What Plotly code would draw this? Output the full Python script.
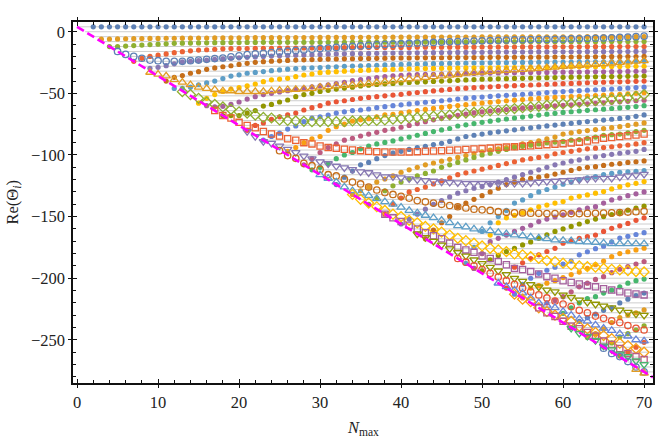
import plotly.graph_objects as go

colors = ["#5E81B5","#E19C24","#8FB032","#EB6235","#8778B3","#C56E1A","#5D9EC7","#FFBF00",
          "#A5609D","#929600","#E95536","#6685D9","#F89F13","#BC5B80","#47B66D"]

# every series ends at Nmax = 70; values run in ascending Nmax
f01=[4,4,4,4,4,4,4,4,4, 4,4,4,4,4,4,4,4,4,4, 4,4,4,4,4,4,4,4,4,4, 4,4,4,4,4,4,4,4,4,4,
     4,4,4,4,4,4,4,4,4,4, 4,4,4,4,4,4,4,4,4,4, 4,4,4,4,4,4,4,4,4,4]
f02=[-6,-5.9,-5.8,-5.7,-5.6,-5.5,-5.4,-5.4,
     -5.3,-5.3,-5.2,-5.2,-5.1,-5.1,-5,-5,-4.9,-4.9,
     -4.8,-4.8,-4.8,-4.8,-4.7,-4.7,-4.7,-4.7,-4.7,-4.6,
     -4.6,-4.6,-4.6,-4.6,-4.5,-4.5,-4.5,-4.5,-4.4,-4.4,
     -4.4,-4.4,-4.4,-4.3,-4.3,-4.3,-4.3,-4.3,-4.3,-4.2,
     -4.2,-4.2,-4.2,-4.2,-4.2,-4.1,-4.1,-4.1,-4.1,-4.1,
     -4.1,-4.1,-4,-4,-4,-4,-4,-4,-4,-4]
f03=[-12,-12,-11.6,-11.2,-10.8,-10.4,-10.1,
     -9.8,-9.4,-9.3,-9.2,-9.1,-9,-8.9,-8.9,-8.8,-8.8,
     -8.7,-8.7,-8.6,-8.6,-8.6,-8.6,-8.6,-8.6,-8.6,-8.6,
     -8.6,-8.6,-8.6,-8.6,-8.5,-8.5,-8.5,-8.5,-8.5,-8.5,
     -8.5,-8.4,-8.4,-8.4,-8.4,-8.4,-8.4,-8.4,-8.4,-8.4,
     -8.3,-8.3,-8.3,-8.3,-8.3,-8.2,-8.2,-8.2,-8.2,-8.2,
     -8.1,-8.1,-8.1,-8.1,-8.1,-8,-8,-8,-8,-8]
f04=[-24,-21.6,-20,-19,
     -18,-17,-16.2,-15.5,-14.9,-14.6,-14.2,-13.9,-13.6,-13.6,
     -13.6,-13.5,-13.4,-13.4,-13.3,-13.3,-13.2,-13.2,-13.1,-13.1,
     -13,-13,-12.9,-12.9,-12.9,-12.8,-12.8,-12.8,-12.7,-12.7,
     -12.7,-12.6,-12.6,-12.6,-12.6,-12.5,-12.5,-12.5,-12.5,-12.4,
     -12.4,-12.4,-12.4,-12.4,-12.3,-12.3,-12.3,-12.3,-12.2,-12.2,
     -12.2,-12.2,-12.1,-12.1,-12.1,-12.1,-12,-12,-12,-12]
f05=[-29.7,-28.9,
     -27.5,-26,-24.5,-24,-23.5,-23,-22.5,-22,-21.6,-21.2,
     -20.8,-20.4,-20,-19.7,-19.4,-19.2,-19,-18.8,-18.6,-18.4,
     -18.2,-18,-17.9,-17.8,-17.7,-17.6,-17.5,-17.4,-17.3,-17.2,
     -17.1,-17.1,-17,-17,-16.9,-16.9,-16.8,-16.8,-16.7,-16.7,
     -16.6,-16.6,-16.5,-16.5,-16.5,-16.4,-16.4,-16.4,-16.3,-16.3,
     -16.3,-16.3,-16.2,-16.2,-16.2,-16.1,-16.1,-16.1,-16,-16]
f06=[-40,-37,-35.6,-33.7,-32.4,-30.5,-29.4,-28.4,-27.6,-26.5,
     -25.6,-24.8,-24.3,-23.9,-23.6,-23.3,-23,-22.8,-22.6,-22.4,
     -22.2,-22.1,-22,-21.9,-21.8,-21.7,-21.6,-21.5,-21.4,-21.3,
     -21.3,-21.2,-21.2,-21.1,-21.1,-21,-21,-21,-20.9,-20.9,
     -20.8,-20.8,-20.8,-20.7,-20.7,-20.7,-20.6,-20.6,-20.5,-20.5,
     -20.5,-20.4,-20.4,-20.3,-20.3,-20.2,-20.2,-20.1,-20.1,-20]
f07=[-46,-46,-45,-43,-41.5,-40,-38,-36,-35,
     -33.7,-33,-32.3,-31.6,-31,-30.4,-29.9,-29.5,-29.2,-29,
     -28.7,-28.4,-28.1,-27.9,-27.6,-27.4,-27.2,-26.9,-26.7,-26.5,
     -26.3,-26.2,-26.1,-25.9,-25.8,-25.7,-25.6,-25.5,-25.4,-25.3,
     -25.2,-25.1,-25.1,-25,-24.9,-24.9,-24.8,-24.7,-24.7,-24.6,
     -24.6,-24.5,-24.5,-24.4,-24.4,-24.3,-24.2,-24.2,-24.1,-24]
f08=[-58,-54,-51,-48.5,-46.5,-45.4,
     -44,-42.4,-40.5,-39,-38.4,-37.8,-36.5,-35.1,-34.3,-33.2,
     -32.8,-32.4,-32,-31.7,-31.4,-31.2,-31,-30.8,-30.5,-30.3,
     -30.1,-30,-29.9,-29.8,-29.7,-29.6,-29.5,-29.4,-29.3,-29.3,
     -29.2,-29.1,-29.1,-29,-28.9,-28.9,-28.8,-28.7,-28.7,-28.6,
     -28.5,-28.5,-28.4,-28.4,-28.3,-28.3,-28.2,-28.1,-28.1,-28]
f09=[-60,-61,-60.5,-59,-57,
     -54.6,-52.7,-51,-50,-48.8,-47.8,-46.8,-45.8,-44.8,-44,
     -43,-42,-41,-39.7,-38.9,-38,-37.2,-36.5,-35.8,-35.3,
     -35,-34.8,-34.6,-34.5,-34.3,-34.2,-34,-33.9,-33.8,-33.6,
     -33.5,-33.4,-33.3,-33.3,-33.2,-33.1,-33,-33,-32.9,-32.8,
     -32.8,-32.7,-32.6,-32.5,-32.5,-32.4,-32.3,-32.2,-32.1,-32]
f10=[-68,-68,-68,
     -66,-64,-60.3,-59,-57,-55.4,-52.7,-51,-50,-48.5,
     -47.5,-46.5,-45.7,-45,-44,-43.4,-42.8,-42.3,-41.9,-41.5,
     -41.2,-41,-40.6,-40.3,-40,-39.7,-39.4,-39.1,-38.8,-38.5,
     -38.4,-38.2,-38.1,-37.9,-37.8,-37.6,-37.5,-37.3,-37.2,-37,
     -36.9,-36.8,-36.7,-36.6,-36.5,-36.4,-36.3,-36.2,-36.1,-36]
f11=[-80,-76,-74,-71,-69,-67.5,-66,-63.5,-61.6,-60,
     -58,-56.8,-56,-55,-54,-53.3,-52.7,-52,-51.4,-50.8,
     -50,-49.3,-48.6,-48,-47.4,-46.8,-46.2,-45.8,-45.4,-45,
     -44.7,-44.4,-44.1,-43.8,-43.5,-43.2,-43,-42.7,-42.4,-42.1,
     -41.9,-41.7,-41.4,-41.2,-41,-40.8,-40.6,-40.4,-40.2,-40]
f12=[-88,-85,-82.3,-79,-76.5,-73,-70,-69,
     -67.6,-66,-65,-64,-63.5,-62.7,-61.6,-60.8,-60,-59.3,
     -58.6,-57.9,-57.2,-56.6,-56,-55.4,-54.6,-53.9,-53.4,-53,
     -52.5,-52,-51.6,-51.2,-50.8,-50.3,-49.9,-49.4,-49,-48.5,
     -48.1,-47.8,-47.4,-47.1,-46.8,-46.5,-46.1,-45.7,-45.3,-45]
f13=[-97,-94,-90,-87,-85,
     -80,-77,-75,-72.5,-71.5,-70.5,-69,-67.5,-67,-66,
     -65,-64,-63,-62.2,-61.4,-60.6,-59.9,-59.2,-58.5,-57.8,
     -57.2,-56.6,-56,-55.5,-55,-54.5,-54.1,-53.7,-53.3,-53,
     -52.7,-52.4,-52.1,-51.8,-51.4,-51.1,-50.8,-50.4,-50,-49.5]
f14=[-108,-103,-98,
     -94,-91,-88,-86.5,-84.6,-83,-81.6,-80,-79,-77.5,
     -76,-74.5,-73,-71.5,-70.2,-69,-67.8,-66.8,-65.8,-65,
     -64.3,-63.7,-63.1,-62.5,-62,-61.5,-61,-60.5,-60.1,-59.7,
     -59.3,-58.9,-58.5,-58.1,-57.7,-57.3,-56.9,-56.5,-56,-55.5]
f15=[-112,-110,
     -107,-103,-100,-98,-95,-92.7,-91,-89.8,-88.6,-87,
     -85.5,-84,-82.5,-81,-79.7,-78.5,-76.5,-75.5,-74.5,-73.5,
     -72.6,-71.7,-70.8,-70,-69.2,-68.4,-67.6,-66.9,-66.2,-65.5,
     -64.9,-64.3,-63.8,-63.3,-62.8,-62.3,-61.8,-61.3,-60.7,-60]
f16=[-124,-118,-113,-108,-106,-103,-100.5,-98.5,-97,
     -95.5,-94,-93,-91.5,-90.5,-89,-87,-85,-84,-83,
     -82,-81.2,-80.4,-79.6,-78.8,-78,-77.2,-76.4,-75.7,-75,
     -74.3,-73.6,-72.9,-72.3,-71.7,-71,-70.3,-69.6,-68.6,-67.5]
f17=[-132,-129,-126,-122,-119.5,-117,-114,
     -112,-110,-108,-106.5,-105,-103.5,-102,-100.5,-99,-97.5,
     -96,-95,-94,-92.5,-91,-90,-88.5,-87,-85.5,-83,
     -82,-81,-80.2,-79.4,-78.6,-77.8,-77,-76,-75,-74]
f18=[-140,-135,-129,-125,-122,
     -119.5,-117,-115,-113,-110,-108,-106,-104,-102,-100,
     -98.5,-97,-95.5,-94,-93,-92,-91,-90,-89.5,-89,
     -88,-87.5,-86.5,-85.5,-84,-83.5,-83,-82,-81,-80]
f19=[-148,-140,-135,
     -130,-128,-126,-123.5,-121,-118.5,-116,-114.5,-113,-111.5,
     -110,-108.5,-107,-105.5,-104,-103,-102,-101,-99,-98,
     -97,-96,-95,-94.5,-94,-93.3,-92.6,-91.9,-91,-90]
f20=[-156,
     -152,-148,-144,-140,-137,-134,-131,-129,-127,-125.5,
     -124,-122,-120,-118,-116,-114,-112,-110,-108,-106.5,
     -105,-104,-102.5,-101.5,-100.5,-99.5,-98.6,-97.8,-97,-95.5]
f21=[-168,-161,-155,-150,-142,-139,-136,-133,
     -130,-127,-124,-122,-120,-119,-118,-117,-115.5,-114,
     -112.5,-111,-110,-109.5,-108.5,-107.5,-107,-106,-105.5,-104.8]
f22=[-188,-175,-162,
     -155,-150,-145,-139,-136.5,-133,-130,-128,-126,-123.7,
     -122,-120,-118.5,-117.5,-116,-115,-114,-113.7,-113.2,-112.7]
f23=[-192,-180,
     -165,-155,-151,-149,-147,-144.5,-142,-140.6,-139,-137.8,
     -135,-133.5,-132.4,-131,-129.7,-127.5,-125.7,-124.2,-123,-121.6]
f24=[-192,-180,
     -170.3,-167.6,-165,-162,-159.5,-157,-154,-152,-150.3,-148.6,
     -146.5,-144.6,-143,-141.9,-139,-136.5,-135,-133,-131.5,-130]
f25=[-194,
     -185,-181.5,-178.4,-175.7,-173,-170.5,-167.6,-164.7,-162,-160,
     -158,-156,-154,-152,-150,-148.3,-146.7,-144.8,-143,-141.5]
f26=[-208,-191,-187.5,-184,-181,-178.3,-175.7,-171.6,
     -169.6,-167.6,-166.3,-165,-162,-159.5,-157.5,-155.5,-153,-151]
f27=[-213,-205,-200,-196,-193.5,-191,-188.5,
     -186,-181,-178.5,-176,-174,-170.5,-167.4,-166,-164.5,-163]
f28=[-216,-208,-206,-204,-202,-199.5,
     -197,-195,-192,-189,-186,-182.5,-180,-178.5,-177,-175.6]
f29=[-220,-218,-215,-211,-207,-204,-201,-198.7,-195.5,-192.7,-190.5,-188.5,-186.5]
f30=[-228.5,-224,-220,-216.5,-215,-212,-209.7,-207,-204,-202,-200.7]
f31=[-240,-235,-232,-229,-226,-224,-220,-217,-214,-212]
f32=[-248,-245,-241,-236,-232,-230,-228,-225.7]
f33=[-255.5,-252.5,-247.5,-245,-242,-238.7]
f34=[-263,-259.8,-256,-252]
filled = [f01,f02,f03,f04,f05,f06,f07,f08,f09,f10,f11,f12,f13,f14,f15,f16,f17,
          f18,f19,f20,f21,f22,f23,f24,f25,f26,f27,f28,f29,f30,f31,f32,f33,f34]

o01=[-16,-18.4,-20,-21.5,-23,-23.5,
     -24,-24,-24,-23.5,-23,-22.4,-21.8,-21.3,-20.3,-19.5,
     -18.6,-18,-17.5,-16.9,-16.3,-15.8,-15.3,-14.8,-14.3,-13.6,
     -13.2,-12.7,-12.3,-11.9,-11.5,-11.1,-10.7,-10.4,-10.1,-9.8,
     -9.5,-9.2,-9,-8.7,-8.4,-8.2,-8,-7.7,-7.5,-7.3,
     -7.1,-6.9,-6.7,-6.6,-6.5,-6.4,-6.3,-6.2,-6.1,-6,
     -5.8,-5.7,-5.5,-5.3,-5.1,-4.9,-4.6,-4.3,-4,-3.6]
o02=[-33,-34.5,
     -36,-39,-41,-43,-45,-46,-47,-48,-48,-48.6,
     -48.6,-48.6,-48.6,-48,-47.5,-47,-46.8,-46.4,-46,-45,
     -44.6,-44,-43.6,-43.2,-42.7,-42,-41.3,-40.6,-40,-39,
     -38.4,-37.8,-37.2,-36.6,-36,-35.4,-34.8,-33.7,-33.2,-32.8,
     -32.3,-31.8,-31.4,-31,-30.6,-30.2,-29.8,-29.3,-28.8,-28.2,
     -27.8,-27.4,-27,-26.5,-26,-25.5,-25,-24.6,-24,-23.5]
o03=[-48.6,-51,-54,-57,-59,-61,-63,-65,
     -66,-67.6,-69.5,-70,-71.6,-72,-72.4,-72.7,-73,-73,
     -73,-73,-73,-72.4,-72.4,-72,-72,-71.6,-71,-70.5,
     -70,-69.5,-69,-68.5,-68,-67.5,-66.5,-66,-65.5,-65,
     -64.2,-63.5,-63,-62.3,-61.6,-61,-60.5,-59.6,-59,-58.5,
     -58,-57.3,-56.7,-56,-55.4,-54.8,-54.2,-53.5,-52.5,-51]
o04=[-64,-68,-70,-73.5,
     -76,-78,-81,-83,-84.6,-86.8,-88,-90,-91,-92.7,
     -94,-94.6,-95.4,-96,-96.5,-97,-97.3,-97.6,-97.6,-97.6,
     -97.5,-97.3,-97,-96.8,-96.5,-96.2,-96,-95.6,-95.2,-94.8,
     -94.4,-94,-93.6,-93.3,-93,-92.5,-92,-91.6,-91.2,-90.8,
     -90.2,-89.6,-88.7,-87.6,-86.5,-85.8,-85.1,-84.4,-83.8,-83]
o05=[-81,-85,-89,-90.5,-92.7,-95.4,-98,-100.8,-103,-105.4,
     -107,-109,-110.3,-111.7,-113.5,-114.3,-116,-117.6,-117.6,-118.5,
     -119.2,-120,-120.6,-121.2,-121.8,-122.2,-122.5,-123,-123,-123,
     -123,-123,-123,-123,-123,-122.5,-122,-121.5,-121.2,-120.7,
     -120.4,-120,-119.4,-118.8,-118.8,-118.8,-117.8,-116.8,-116.2,-115.6]
o06=[-96.5,-100.5,-102.7,-106.8,-108.7,-111.7,
     -116,-117,-119.5,-122,-123.5,-126,-128.4,-130.5,-132,-133.5,
     -135,-137,-138,-139,-140,-141,-142,-143,-144,-144.5,
     -145,-146,-146.5,-147,-147,-147.2,-147.3,-147.5,-147.5,-147.5,
     -147.5,-147.5,-147.4,-147.3,-147.1,-147,-146.7,-146.3,-146,-145.7]
o07=[-116,
     -119,-122,-126,-129,-131,-133,-135.5,-138,-140,-142.5,
     -145,-147,-149,-151,-153,-155,-157.5,-158.5,-160,-161,
     -161.5,-163,-164,-165,-165.5,-166.5,-167.3,-168,-169,-169.3,
     -169.7,-170.3,-170.7,-171,-171.5,-172,-172.1,-172.1,-172.1,-172.1]
o08=[-132,-136,-139,-142,-145,-148,-150,
     -153,-155,-158,-160,-162.5,-165,-167.6,-169.5,-171.6,-173.8,
     -175.7,-177,-178.4,-180.3,-181,-182.5,-183.8,-185.7,-186.5,-187.8,
     -189.2,-190,-190.6,-191,-192,-192.7,-193.3,-193.8,-194.6,-194.9]
o09=[-148,-151,-154,
     -157,-160,-163,-165.5,-168,-171.5,-175,-177,-179,-182,
     -184,-186.5,-189,-192,-193,-194.6,-196.5,-198.7,-200,-202,
     -203.5,-204.6,-206,-207,-208.5,-209.5,-211,-212,-212.8,-213.5]
o10=[-164,-167,-170,-173,-176,-179,-182,-185,-188,
     -191,-194,-197,-200,-202.5,-205,-207,-209.5,-211,-213.6,
     -215.5,-217.6,-219.5,-221,-222.5,-224,-225.7,-227.6,-229,-230]
o11=[-184,-187,-190,-193,
     -196,-199,-202,-205,-208,-211,-213.5,-216,-218.5,-221,
     -223,-226,-228,-230.7,-232.5,-234.5,-236,-238.4,-240.6,-242]
o12=[-204,-207,-209.5,-212,-216,-220,-222,-224,-227,
     -230,-233,-235,-238,-240.6,-242.5,-245,-247,-250,-251]
o13=[-213,-217,-219,-224,-227,-230,-232.5,
     -235,-239,-241,-244,-246.5,-249,-252.7,-254.6,-257,-260]
o14=[-224,-228,-231,-235,-239,-241,-244,-247,-251,-253.7,-257,-261,-263.6,-266]
o15=[-240.5,-244.6,-247,-250.6,-255,-258,-261.5,-263.6,-267,-270]
o16=[-256.8,-261,-263.6,-267.6,-272,-276]
o17=[-274,-277]
hollow = [o01,o02,o03,o04,o05,o06,o07,o08,o09,o10,o11,o12,o13,o14,o15,o16,o17]
hollow_symbols = ["circle-open","triangle-up-open","diamond-open","square-open","triangle-down-open"]

levels = [4,0,-4,-8,-12,-16,-20,-24,-28,-32,-36,-40,-44,-48,-52,-56,-60,-64,-68,-72,-76,-80,
          -84,-88,-92,-96,-100,-104,-108,-112,-116,-120,-124,-128,-132,-136,-140,-144,-148,
          -152,-156,-160,-164,-168,-172,-176,-180,-184,-188,-192,-196,-200,-204,-208,-212,
          -216,-220,-224,-228,-232,-236,-240,-244,-248,-252,-256,-260,-264,-268,-272,-276]
edge_n = [0, 71.1]
edge_v = [4, -280.4]
x_tick_vals = [0,10,20,30,40,50,60,70]
y_tick_vals = [0,-50,-100,-150,-200,-250]

xr = [-0.5, 71.1]
yr = [-285, 7.9]

fig = go.Figure()
gx, gy = [], []
for k, v in enumerate(levels):
    gx += [k, xr[1], None]
    gy += [v, v, None]
fig.add_trace(go.Scatter(x=gx, y=gy, mode="lines", line=dict(color="#CECECE", width=1), hoverinfo="skip"))

def ns(vals):
    return list(range(71 - len(vals), 71))

for i, vals in enumerate(filled):
    fig.add_trace(go.Scatter(x=ns(vals), y=vals, mode="markers",
                             marker=dict(color=colors[i % 15], size=5.2, line=dict(width=0))))
for i, vals in enumerate(hollow):
    sym = hollow_symbols[i % 5]
    size = {"circle-open": 6.4, "square-open": 6.2, "diamond-open": 7.6}.get(sym, 7.4)
    fig.add_trace(go.Scatter(x=ns(vals), y=vals, mode="markers",
                             marker=dict(color=colors[i % 15], symbol=sym, size=size,
                                         line=dict(width=1.3, color=colors[i % 15]))))
fig.add_trace(go.Scatter(x=edge_n, y=edge_v, mode="lines",
                         line=dict(color="#FF00FF", width=2.6, dash="8px,4px")))
# helper trace so the overlaid axes (inner tick halves) are drawn
fig.add_trace(go.Scatter(x=[None], y=[None], xaxis="x2", yaxis="y2", mode="markers", hoverinfo="skip"))

font = dict(family="Liberation Serif", size=16.5, color="#222")
fig.update_layout(
    width=664, height=442, showlegend=False, paper_bgcolor="white", plot_bgcolor="white",
    margin=dict(l=73, r=6.5, t=22, b=59), font=font,
    xaxis=dict(range=xr, tickvals=x_tick_vals, ticks="outside", ticklen=3, tickwidth=1.2, tickcolor="#111",
               showgrid=False, zeroline=False, showline=True, linecolor="#111", linewidth=1.5, mirror="allticks",
               tickfont=font,
               minor=dict(tickvals=[i for i in range(0, 71, 2)], ticks="inside", ticklen=3.5, tickwidth=1.1,
                          tickcolor="#111", showgrid=False)),
    yaxis=dict(range=yr, tickvals=y_tick_vals, ticks="outside", ticklen=3, tickwidth=1.2, tickcolor="#111",
               showgrid=False, zeroline=False, showline=True, linecolor="#111", linewidth=1.5, mirror="allticks",
               tickfont=font,
               minor=dict(tickvals=[-i for i in range(0, 281, 10)], ticks="inside", ticklen=3.5, tickwidth=1.1,
                          tickcolor="#111", showgrid=False)),
    xaxis2=dict(range=xr, overlaying="x", anchor="y2", tickvals=x_tick_vals, ticks="inside", ticklen=4,
                tickwidth=1.2, tickcolor="#111", showticklabels=False, showgrid=False, zeroline=False,
                showline=False, mirror="allticks"),
    yaxis2=dict(range=yr, overlaying="y", anchor="x2", tickvals=y_tick_vals, ticks="inside", ticklen=4,
                tickwidth=1.2, tickcolor="#111", showticklabels=False, showgrid=False, zeroline=False,
                showline=False, mirror="allticks"),
    annotations=[
        dict(text="<i>N</i><sub>max</sub>", xref="paper", yref="paper", x=0.4996, y=-0.125, showarrow=False,
             xanchor="center", yanchor="middle", font=font),
        dict(text="Re(Θ<sub><i>i</i></sub>)", xref="paper", yref="paper", x=-0.104, y=0.499, showarrow=False,
             textangle=-90, xanchor="center", yanchor="middle", font=font),
    ],
)
fig.write_html("out.html", post_script="document.body.style.margin='0';",
               config=dict(displayModeBar=False))
